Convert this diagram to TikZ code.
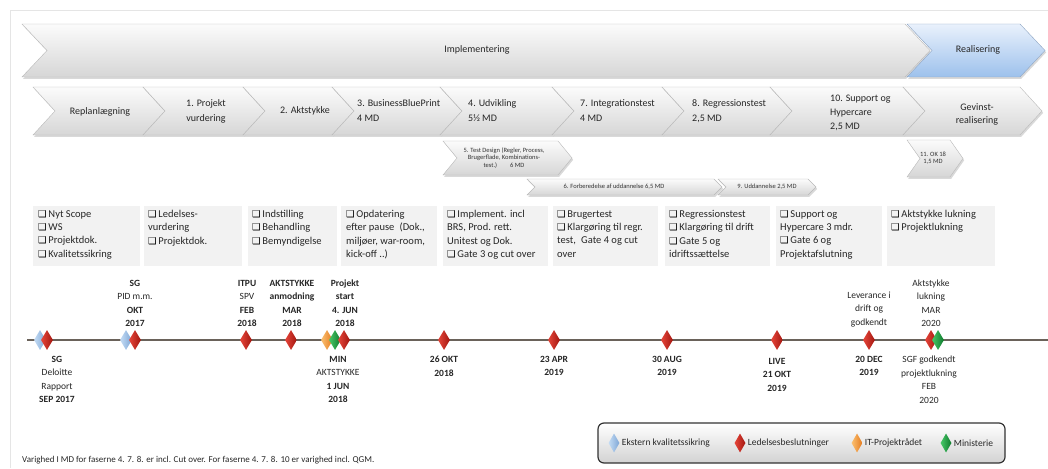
\documentclass[tikz,border=0pt]{standalone}
\usepackage{fontspec}
\setmainfont{Carlito}
\newfontfamily\symfont{DejaVu Sans}
\usetikzlibrary{positioning,shapes.geometric,shadows}

\definecolor{realtop}{HTML}{E9F1FC}
\definecolor{realbot}{HTML}{9DC1EC}
\definecolor{realedge}{HTML}{8FA6C4}
\definecolor{msred}{HTML}{E6463A}
\definecolor{msreddk}{HTML}{A3160F}
\definecolor{msblue}{HTML}{C4DCF4}
\definecolor{msbluedk}{HTML}{7EA6D6}
\definecolor{msorange}{HTML}{FBC070}
\definecolor{msorangedk}{HTML}{E47A1E}
\definecolor{msgreen}{HTML}{48C868}
\definecolor{msgreendk}{HTML}{0E7A2C}
\definecolor{tlline}{HTML}{6A625A}
\definecolor{boxfill}{HTML}{F2F2F2}

% chevron: [style] x-left, x-top-right, y-top, y-bottom, depth
\newcommand{\chevron}[6][]{%
  \pgfmathsetmacro{\ymid}{(#4+#5)/2}%
  \path[chev,#1] (#2,#4) -- (#3,#4) -- (#3+#6,\ymid) -- (#3,#5)
    -- (#2,#5) -- (#2+#6,\ymid) -- cycle;}
\newcommand{\cbx}{{\symfont\fontsize{9.5}{9.5}\selectfont\color{black}\char"2751}\,}

\begin{document}
\begin{tikzpicture}[x=1pt,y=-1pt,
    chev/.style={draw=gray!55, top color=gray!3, bottom color=gray!32,
      drop shadow={shadow xshift=1.2pt,shadow yshift=-1.8pt,opacity=0.3}},
    toplabel/.style={font=\fontsize{10}{12}\selectfont, text=black!85},
    phase/.style={font=\fontsize{10}{15}\selectfont, text=black!85, inner sep=0pt},
    subphase/.style={font=\fontsize{6.5}{7.5}\selectfont, text=black!80, inner sep=0pt, align=center},
    boxtext/.style={font=\fontsize{10.5}{13.4}\selectfont, text=black!85, anchor=north west,
      inner sep=0pt, align=left},
    tlab/.style={font=\fontsize{9.5}{13.5}\selectfont, text=black!85, align=center, inner sep=0pt},
    ms/.style={diamond, inner sep=0pt, minimum width=12pt, minimum height=20pt, shading=axis},
    msr/.style={ms, left color=msred, right color=msreddk},
    msb/.style={ms, left color=msblue, right color=msbluedk},
    mso/.style={ms, left color=msorange, right color=msorangedk},
    msg/.style={ms, left color=msgreen, right color=msgreendk},
    legtext/.style={font=\fontsize{9.5}{12}\selectfont, text=black!85, inner sep=1pt}]
  \useasboundingbox (0,0) rectangle (1048,468);

  % Frame
  \draw[gray!20] (10,468) -- (10,10) -- (1048,10);

  % Top row
  \chevron{22}{905}{24}{77}{25}
  \chevron[top color=realtop, bottom color=realbot, draw=realedge]{907}{1020}{24}{77}{25}
  \node[toplabel] (impl) at (477,50) {Implementering};
  \node[toplabel] (real) at (978,50) {Realisering};

  % Phases
  \chevron{33}{143}{87}{135}{22}
  \chevron{143}{243}{87}{135}{22}
  \chevron{243}{332}{87}{135}{22}
  \chevron{332}{440}{87}{135}{22}
  \chevron{440}{552}{87}{135}{22}
  \chevron{552}{662}{87}{135}{22}
  \chevron{662}{770}{87}{135}{22}
  \chevron{770}{903}{87}{135}{22}
  \chevron{903}{1020}{87}{135}{22}
  \node[phase] (ph0) at (100,112) {Replanlægning};
  \node[phase, align=center] (ph1) at (206,111) {1. Projekt\\vurdering};
  \node[phase] (ph2) at (305,111) {2. Aktstykke};
  \node[phase, align=left, anchor=west] (ph3) at (357,111) {3. BusinessBluePrint\\4 MD};
  \node[phase, align=left, anchor=west] (ph4) at (468,111) {4. Udvikling\\5½ MD};
  \node[phase, align=left, anchor=west] (ph7) at (580,111) {7. Integrationstest\\4 MD};
  \node[phase, align=left, anchor=west] (ph8) at (692,111) {8. Regressionstest\\2,5 MD};
  \node[phase, align=left, anchor=west, font=\fontsize{10}{14}\selectfont] (ph10) at (830,113) {10. Support og\\Hypercare\\2,5 MD};
  \node[phase, align=center, font=\fontsize{10}{13}\selectfont] (gev) at (977,114) {Gevinst-\\realisering};

  % Sub phases
  \chevron{443}{558}{141}{175}{14}
  \chevron{907}{950}{140}{177}{13}
  \chevron{527}{714}{179}{195}{8}
  \chevron{718}{808}{179}{195}{8}
  \node[subphase] (sp5) at (504,158) {5. Test Design (Regler, Process,\\Brugerflade, Kombinations-\\test.)\qquad 6 MD};
  \node[subphase] (sp11) at (933,158) {11. OK 18\\1,5 MD};
  \node[subphase] (sp6) at (614,187) {6. Forberedelse af uddannelse 6,5 MD};
  \node[subphase] (sp9) at (767,187) {9. Uddannelse 2,5 MD};

  % Activity boxes
  \fill[boxfill] (33,206) rectangle (140,266);
  \fill[boxfill] (144,206) rectangle (242,266);
  \fill[boxfill] (248,206) rectangle (337,266);
  \fill[boxfill] (341,206) rectangle (437,266);
  \fill[boxfill] (443,206) rectangle (548,266);
  \fill[boxfill] (553,206) rectangle (658,266);
  \fill[boxfill] (665,206) rectangle (770,266);
  \fill[boxfill] (776,206) rectangle (882,266);
  \fill[boxfill] (887,206) rectangle (995,266);
  \node[boxtext] (bx1) at (38,210) {\cbx Nyt Scope\\\cbx WS\\\cbx Projektdok.\\\cbx Kvalitetssikring};
  \node[boxtext] (bx2) at (148,210) {\cbx Ledelses-\\vurdering\\\cbx Projektdok.};
  \node[boxtext] (bx3) at (252,210) {\cbx Indstilling\\\cbx Behandling\\\cbx Bemyndigelse};
  \node[boxtext] (bx4) at (346,210) {\cbx Opdatering\\efter pause\enspace(Dok.,\\miljøer, war-room,\\kick-off ..)};
  \node[boxtext] (bx5) at (447,210) {\cbx Implement. incl\\BRS, Prod. rett.\\Unitest og Dok.\\\cbx Gate 3 og cut over};
  \node[boxtext] (bx6) at (557,210) {\cbx Brugertest\\\cbx Klargøring til regr.\\test,\enspace Gate 4 og cut\\over};
  \node[boxtext] (bx7) at (669,210) {\cbx Regressionstest\\\cbx Klargøring til drift\\\cbx Gate 5 og\\idriftssættelse};
  \node[boxtext] (bx8) at (780,210) {\cbx Support og\\Hypercare 3 mdr.\\\cbx Gate 6 og\\Projektafslutning};
  \node[boxtext] (bx9) at (891,210) {\cbx Aktstykke lukning\\\cbx Projektlukning};

  % Timeline
  \coordinate (tlstart) at (27,340);
  \coordinate (tlend) at (1048,340);
  \draw[tlline, line width=1.6pt] (tlstart) -- (tlend);

  \node[msb] (m1a) at (40,340) {};
  \node[msr] (m1b) at (47,340) {};
  \node[msb] (m2a) at (126,340) {};
  \node[msr] (m2b) at (135,340) {};
  \node[msr] (m3) at (246,340) {};
  \node[msr] (m4) at (291,340) {};
  \node[mso] (m5a) at (327,340) {};
  \node[msg] (m5b) at (335,340) {};
  \node[msr] (m5c) at (344,340) {};
  \node[msr] (m6) at (444,340) {};
  \node[msr] (m7) at (554,340) {};
  \node[msr] (m8) at (667,340) {};
  \node[msr] (m9) at (777,340) {};
  \node[msr] (m10) at (869,340) {};
  \node[msr] (m11a) at (931,340) {};
  \node[msg] (m11b) at (938,340) {};

  % Labels above
  \node[tlab, anchor=south] (lpid) at (135,327) {\textbf{SG}\\PID m.m.\\\textbf{OKT}\\\textbf{2017}};
  \node[tlab, anchor=south] (litpu) at (247,327) {\textbf{ITPU}\\SPV\\\textbf{FEB}\\\textbf{2018}};
  \node[tlab, anchor=south] (lanm) at (292,327) {\textbf{AKTSTYKKE}\\\textbf{anmodning}\\\textbf{MAR}\\\textbf{2018}};
  \node[tlab, anchor=south] (lstart) at (345,327) {\textbf{Projekt}\\\textbf{start}\\\textbf{4. JUN}\\\textbf{2018}};
  \node[tlab, anchor=south] (llev) at (869,327) {Leverance i\\drift og\\godkendt};
  \node[tlab, anchor=south] (lluk) at (931,327) {Aktstykke\\lukning\\MAR\\2020};

  % Labels below
  \node[tlab, anchor=north] (ldel) at (57,356) {\textbf{SG}\\Deloitte\\Rapport\\\textbf{SEP 2017}};
  \node[tlab, anchor=north] (lmin) at (338,356) {\textbf{MIN}\\AKTSTYKKE\\\textbf{1 JUN}\\\textbf{2018}};
  \node[tlab, anchor=north] (lokt) at (444,356) {\textbf{26 OKT}\\\textbf{2018}};
  \node[tlab, anchor=north] (lapr) at (554,356) {\textbf{23 APR}\\\textbf{2019}};
  \node[tlab, anchor=north] (laug) at (667,356) {\textbf{30 AUG}\\\textbf{2019}};
  \node[tlab, anchor=north] (llive) at (777,358) {\textbf{LIVE}\\\textbf{21 OKT}\\\textbf{2019}};
  \node[tlab, anchor=north] (ldec) at (869,356) {\textbf{20 DEC}\\\textbf{2019}};
  \node[tlab, anchor=north] (lsgf) at (929,356) {SGF godkendt\\projektlukning\\FEB\\2020};

  % Legend
  \node[draw=gray!40!black, line width=1.2pt, rounded corners=6pt, top color=white, bottom color=gray!35,
    minimum width=407pt, minimum height=40pt] (legend) at (801.5,443) {};
  \node[msb, minimum width=11pt, minimum height=19pt] (lgb) at (614,443) {};
  \node[legtext, right=1pt of lgb] (lgbt) {Ekstern kvalitetssikring};
  \node[msr, minimum width=11pt, minimum height=19pt] (lgr) at (740,443) {};
  \node[legtext, right=1pt of lgr] (lgrt) {Ledelsesbeslutninger};
  \node[mso, minimum width=11pt, minimum height=19pt] (lgo) at (857,443) {};
  \node[legtext, right=1pt of lgo] (lgot) {IT-Projektrådet};
  \node[msg, minimum width=11pt, minimum height=19pt] (lgg) at (946,443) {};
  \node[legtext, right=1pt of lgg] (lggt) {Ministerie};

  % Footnote
  \node[font=\fontsize{9}{11}\selectfont, text=black!85, anchor=west, inner sep=0pt] (note) at (22,460)
    {Varighed I MD for faserne 4. 7. 8. er incl. Cut over. For faserne 4. 7. 8. 10 er varighed incl. QGM.};
\end{tikzpicture}
\end{document}
